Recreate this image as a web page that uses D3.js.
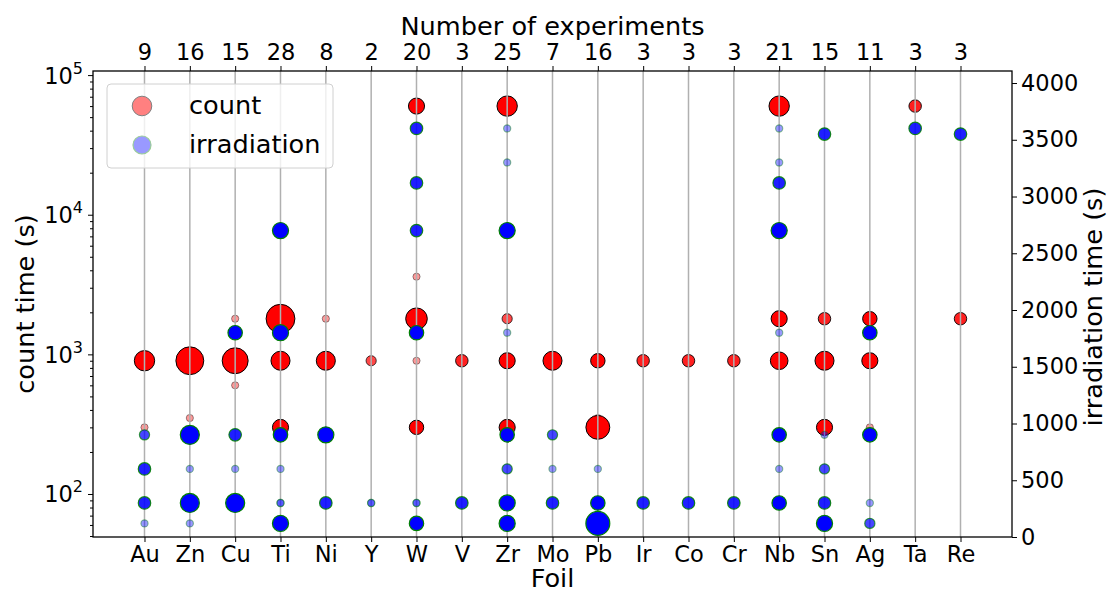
<!DOCTYPE html>
<html lang="en">
<head>
  <meta charset="UTF-8">
  <title>Count and irradiation times per foil</title>
  <script src="https://d3js.org/d3.v7.min.js"></script>
  <style>
    body { margin: 0; background: #fff; }
    svg text { font-family: "DejaVu Sans", sans-serif; fill: #000; }
  </style>
</head>
<body>
  <div id="chart"></div>

  <script>
    // categories and top-axis labels
    const foils = ["Au","Zn","Cu","Ti","Ni","Y","W","V","Zr","Mo","Pb","Ir","Co","Cr","Nb","Sn","Ag","Ta","Re"];
    const experiments = [9,16,15,28,8,2,20,3,25,7,16,3,3,3,21,15,11,3,3];

    // count times (s) per foil and how many experiments used each
    const countTimes = [
      [900,300], [900,350], [1800,900,600], [1800,900,300], [1800,900], [900],
      [60000,3600,1800,900,300], [900], [60000,1800,900,300], [900], [900,350,300],
      [900], [900], [900], [60000,1800,900], [1800,900,300], [1800,900,300], [60000], [1800]
    ];
    const countFreq = [
      [8,1], [15,1], [1,13,1], [16,7,5], [1,7], [2],
      [5,1,9,1,4], [3], [8,2,5,5], [7], [4,1,11],
      [3], [3], [3], [8,5,6], [3,7,5], [4,5,1], [3], [3]
    ];

    // irradiation times (s) per foil and how many experiments used each
    const irrTimes = [
      [900,600,300,120], [900,600,300,120], [1800,900,600,300], [2700,1800,900,600,300,300,120],
      [900,300], [300,300], [3600,3120,2700,1800,300,300,120], [300],
      [3600,3300,2700,1800,900,600,300,120], [900,600,300], [600,300,120],
      [300], [300], [300], [3600,3300,3120,2700,1800,900,600,300],
      [3550,900,600,300,120], [1800,900,300,120], [3600], [3550]
    ];
    const irrFreq = [
      [2,3,3,1], [7,1,7,1], [4,3,1,7], [5,5,4,1,1,1,5],
      [5,3], [1,1], [3,3,3,4,1,1,4], [3],
      [1,1,5,1,4,2,5,5], [2,1,3], [1,4,11],
      [3], [3], [3], [1,1,3,5,1,4,1,4],
      [3,1,2,3,5], [4,4,1,2], [3], [3]
    ];

    const leftTicks = [1e2, 1e3, 1e4, 1e5];
    const rightTicks = [0,500,1000,1500,2000,2500,3000,3500,4000];

    const W = 1108, H = 592;
    const m = {left: 93, right: 1012, top: 71, bottom: 537};

    const svg = d3.select("#chart").append("svg")
      .attr("width", W).attr("height", H);

    const x = d3.scalePoint().domain(foils).range([m.left, m.right]).padding(1.136);
    const yL = d3.scaleLog().domain([49.2, 107000]).range([m.bottom, m.top]);
    const yR = d3.scaleLinear().domain([0, 4106]).range([m.bottom, m.top]);
    const r = n => 3.6 * Math.sqrt(n);
    const alpha = n => [0.4, 0.72, 0.88][n - 1] || 1;

    function flatten(times, freq) {
      const out = [];
      foils.forEach((f, i) => times[i].forEach((t, j) => out.push({foil: f, t: t, n: freq[i][j]})));
      return out;
    }
    const countPts = flatten(countTimes, countFreq);
    const irrPts = flatten(irrTimes, irrFreq);

    // red markers (left axis)
    svg.append("g").selectAll("circle")
      .data(countPts).enter().append("circle")
      .attr("cx", d => x(d.foil))
      .attr("cy", d => yL(d.t))
      .attr("r", d => r(d.n))
      .attr("fill", "#ff0000")
      .attr("stroke", "#000")
      .attr("stroke-width", 1)
      .attr("fill-opacity", d => alpha(d.n))
      .attr("stroke-opacity", d => alpha(d.n));

    // vertical grid
    svg.append("g").selectAll("line")
      .data(foils).enter().append("line")
      .attr("x1", d => x(d)).attr("x2", d => x(d))
      .attr("y1", m.top).attr("y2", m.bottom)
      .attr("stroke", "#b0b0b0").attr("stroke-width", 1.5);

    // blue markers (right axis)
    svg.append("g").selectAll("circle")
      .data(irrPts).enter().append("circle")
      .attr("cx", d => x(d.foil))
      .attr("cy", d => yR(d.t))
      .attr("r", d => r(d.n))
      .attr("fill", "#0000ff")
      .attr("stroke", "#008000")
      .attr("stroke-width", 1.2)
      .attr("fill-opacity", d => alpha(d.n))
      .attr("stroke-opacity", d => alpha(d.n));

    // axes
    const fs = 22.5;
    const gb = svg.append("g").attr("transform", `translate(0,${m.bottom})`)
      .call(d3.axisBottom(x).tickSize(5).tickPadding(4));
    const gt = svg.append("g").attr("transform", `translate(0,${m.top})`)
      .call(d3.axisTop(x).tickSize(5).tickPadding(6).tickFormat((d, i) => experiments[i]));
    const gr = svg.append("g").attr("transform", `translate(${m.right},0)`)
      .call(d3.axisRight(yR).tickValues(rightTicks).tickSize(5).tickPadding(4).tickFormat(d3.format("d")));

    const minor = [];
    [10, 100, 1000, 10000].forEach(b => { for (let k = 2; k <= 9; k++) if (b * k > 49.2) minor.push(b * k); });
    const gm = svg.append("g").attr("transform", `translate(${m.left},0)`)
      .call(d3.axisLeft(yL).tickValues(minor).tickSize(3).tickFormat(""));
    const gl = svg.append("g").attr("transform", `translate(${m.left},0)`)
      .call(d3.axisLeft(yL).tickValues(leftTicks).tickSize(5).tickFormat(""));

    [gb, gt, gr, gm, gl].forEach(g => {
      g.select(".domain").remove();
      g.selectAll(".tick line").attr("stroke", "#000").attr("stroke-width", 1);
      g.selectAll(".tick text").attr("font-size", fs).attr("font-family", "DejaVu Sans");
    });

    // 10^k labels
    gl.selectAll(".tick").append("text")
      .attr("x", -10).attr("y", 0).attr("dy", 8)
      .attr("text-anchor", "end")
      .attr("font-size", fs)
      .each(function(d) {
        const t = d3.select(this);
        t.append("tspan").text("10");
        t.append("tspan").attr("font-size", 16).attr("dy", -10).text(Math.round(Math.log10(d)));
      });

    // frame
    svg.append("rect")
      .attr("x", m.left).attr("y", m.top)
      .attr("width", m.right - m.left).attr("height", m.bottom - m.top)
      .attr("fill", "none").attr("stroke", "#000").attr("stroke-width", 1.3);

    // axis titles
    const ls = 25.6;
    svg.append("text").attr("x", (m.left + m.right) / 2).attr("y", 587)
      .attr("text-anchor", "middle").attr("font-size", ls).text("Foil");
    svg.append("text").attr("x", (m.left + m.right) / 2).attr("y", 35)
      .attr("text-anchor", "middle").attr("font-size", ls).text("Number of experiments");
    svg.append("text")
      .attr("transform", `translate(34,${(m.top + m.bottom) / 2}) rotate(-90)`)
      .attr("text-anchor", "middle").attr("font-size", ls).text("count time (s)");
    svg.append("text")
      .attr("transform", `translate(1102,307) rotate(-90)`)
      .attr("text-anchor", "middle").attr("font-size", ls).text("irradiation time (s)");

    // legend
    const lg = svg.append("g");
    lg.append("rect").attr("x", 107).attr("y", 84).attr("width", 226).attr("height", 84)
      .attr("rx", 4).attr("fill", "#fff").attr("fill-opacity", 0.8)
      .attr("stroke", "#d0d0d0").attr("stroke-width", 1);
    lg.append("circle").attr("cx", 142).attr("cy", 106).attr("r", 9.8)
      .attr("fill", "#ff8080").attr("stroke", "#808080").attr("stroke-width", 1);
    lg.append("circle").attr("cx", 142).attr("cy", 145).attr("r", 9)
      .attr("fill", "#9999ff").attr("stroke", "#99cc99").attr("stroke-width", 1.2);
    lg.append("text").attr("x", 189).attr("y", 114).attr("font-size", ls).text("count");
    lg.append("text").attr("x", 189).attr("y", 153).attr("font-size", ls).text("irradiation");
  </script>
</body>
</html>
